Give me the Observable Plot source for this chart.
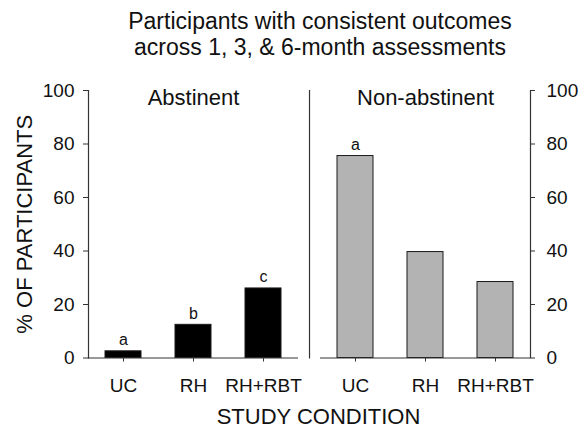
<!DOCTYPE html>
<html>
<head>
<meta charset="utf-8">
<script src="https://cdn.jsdelivr.net/npm/d3@7"></script>
<script src="https://cdn.jsdelivr.net/npm/@observablehq/plot@0.6"></script>
<style>
  html, body { margin: 0; padding: 0; background: #fff; }
  body { width: 587px; height: 428px; overflow: hidden; font-family: "Liberation Sans", Arial, sans-serif; color: #111; }
  #title { box-sizing: border-box; height: 68px; padding-top: 8px; padding-left: 53px; text-align: center; font-size: 23px; line-height: 26px; }
  #chart svg { display: block; overflow: visible; }
</style>
</head>
<body>
<div id="title">Participants with consistent outcomes<br>across 1, 3, &amp; 6-month assessments</div>
<div id="chart"></div>
<script>
const conditions = ["UC", "RH", "RH+RBT"];
const groups = ["Abstinent", "Non-abstinent"];
const abstinentValues = [2.5, 12.4, 26.0];
const nonAbstinentValues = [75.5, 39.6, 28.4];
const abstinentLetters = ["a", "b", "c"];
const nonAbstinentLetters = ["a", "", ""];
const yTicks = [0, 20, 40, 60, 80, 100];
const yLabel = "% OF PARTICIPANTS";
const xLabel = "STUDY CONDITION";

const groupColors = {"Abstinent": "#000000", "Non-abstinent": "#b3b3b3"};

const rows = [
  ...conditions.map((c, i) => ({group: groups[0], condition: c, value: abstinentValues[i], letter: abstinentLetters[i]})),
  ...conditions.map((c, i) => ({group: groups[1], condition: c, value: nonAbstinentValues[i], letter: nonAbstinentLetters[i]}))
];

const W = 587, H = 360;
const mL = 88, mR = 57;
const fxPad = 0.095;
const panelStep = (W - mL - mR) / (2 - fxPad);
const gap = panelStep * fxPad;

const chart = Plot.plot({
  width: W,
  height: H,
  marginLeft: mL,
  marginRight: mR,
  marginTop: 22,
  marginBottom: 70.5,
  style: {fontFamily: "Liberation Sans, Arial, sans-serif", color: "#111", background: "#fff", overflow: "visible"},
  fx: {domain: groups, padding: fxPad, axis: null},
  x: {domain: conditions, paddingInner: 0.486, paddingOuter: 0.243, axis: null},
  y: {domain: [0, 100], axis: null},
  marks: [
    Plot.barY(rows, {fx: "group", x: "condition", y: "value", fill: d => groupColors[d.group], stroke: "#1a1a1a", strokeWidth: 1}),
    Plot.ruleY([0], {stroke: "#333", strokeWidth: 1.2}),
    Plot.frame({anchor: "left", facetAnchor: "left", stroke: "#333", strokeWidth: 1.2}),
    Plot.frame({anchor: "right", facetAnchor: "right", stroke: "#333", strokeWidth: 1.2}),
    Plot.frame({anchor: "right", facetAnchor: "left", dx: gap / 2, stroke: "#333", strokeWidth: 1.2}),
    Plot.axisY({anchor: "left", ticks: yTicks, tickSize: 5, tickPadding: 9, fontSize: 19, label: null, stroke: "#333"}),
    Plot.axisY({anchor: "right", ticks: yTicks, tickSize: 4, tickPadding: 12, fontSize: 19, label: null, stroke: "#333"}),
    Plot.axisX({anchor: "bottom", tickSize: 4, tickPadding: 16, fontSize: 19, label: null, stroke: "#333"}),
    Plot.text(rows, {fx: "group", x: "condition", y: "value", text: "letter", lineAnchor: "bottom", dy: -6, fontSize: 16}),
    Plot.text(groups, {fx: d => d, text: d => d, frameAnchor: "top", lineAnchor: "top", dy: -1, fontSize: 22}),
    Plot.text([yLabel], {facet: "super", frameAnchor: "left", textAnchor: "middle", rotate: -90, dx: -64, fontSize: 22}),
    Plot.text([xLabel], {facet: "super", frameAnchor: "bottom", lineAnchor: "middle", dy: 59, dx: 9, fontSize: 22})
  ]
});
document.getElementById("chart").appendChild(chart);
</script>
</body>
</html>
